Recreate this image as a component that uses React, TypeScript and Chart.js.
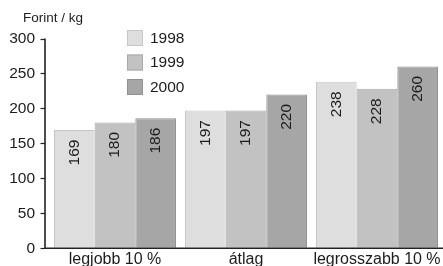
import React, { useEffect, useRef } from "react";
import { Chart, registerables } from "chart.js";

Chart.register(...registerables);

const categories = ["legjobb 10 %", "átlag", "legrosszabb 10 %"];
const seriesNames = ["1998", "1999", "2000"];
const values1998 = [169, 197, 238];
const values1999 = [180, 197, 228];
const values2000 = [186, 220, 260];
const yTicks = [0, 50, 100, 150, 200, 250, 300];
const yAxisTitle = "Forint / kg";

const fills = ["#dedede", "#c2c2c2", "#a6a6a6"];
const borders = ["#c6c6c6", "#a9a9a9", "#909090"];
const FONT = "'Liberation Sans', Arial, sans-serif";
const TEXT = "#1c1c1c";

const decorPlugin = {
  id: "decor",
  afterDatasetsDraw(chart: any) {
    const ctx = chart.ctx;
    const y = chart.scales.y;
    const area = chart.chartArea;
    const axisX = 45;
    ctx.save();
    // data labels
    ctx.fillStyle = TEXT;
    ctx.font = `15.5px ${FONT}`;
    ctx.textAlign = "right";
    ctx.textBaseline = "middle";
    chart.data.datasets.forEach((ds: any, i: number) => {
      const meta = chart.getDatasetMeta(i);
      meta.data.forEach((bar: any, j: number) => {
        ctx.save();
        ctx.translate(bar.x, bar.y + 9.5);
        ctx.rotate(-Math.PI / 2);
        ctx.fillText(String(ds.data[j]), 0, 0);
        ctx.restore();
      });
    });
    // axes
    ctx.strokeStyle = "#222";
    ctx.lineWidth = 1.6;
    ctx.beginPath();
    ctx.moveTo(axisX, y.getPixelForValue(300));
    ctx.lineTo(axisX, area.bottom);
    ctx.lineTo(443, area.bottom);
    ctx.stroke();
    ctx.lineWidth = 1.2;
    yTicks.forEach((t) => {
      const py = Math.round(y.getPixelForValue(t)) + 0.5;
      ctx.beginPath();
      ctx.moveTo(axisX - 4.5, py);
      ctx.lineTo(axisX, py);
      ctx.stroke();
    });
    // y title
    ctx.fillStyle = TEXT;
    ctx.font = `13.5px ${FONT}`;
    ctx.textAlign = "left";
    ctx.textBaseline = "middle";
    ctx.fillText(yAxisTitle, 23, 18.5);
    // legend
    const rowsY = [38, 62.5, 87];
    ctx.font = `15.5px ${FONT}`;
    seriesNames.forEach((name, i) => {
      const cy = rowsY[i];
      ctx.fillStyle = fills[i];
      ctx.fillRect(127, cy - 8, 16, 16);
      ctx.strokeStyle = borders[i];
      ctx.lineWidth = 1;
      ctx.strokeRect(127.5, cy - 7.5, 15, 15);
      ctx.fillStyle = TEXT;
      ctx.fillText(name, 150, cy + 0.5);
    });
    ctx.restore();
  },
};

export default function App() {
  const ref = useRef<HTMLCanvasElement>(null);
  useEffect(() => {
    if (!ref.current) return;
    const chart = new Chart(ref.current, {
      type: "bar",
      data: {
        labels: categories,
        datasets: [values1998, values1999, values2000].map((vals, i) => ({
          label: seriesNames[i],
          data: vals,
          backgroundColor: fills[i],
          borderColor: borders[i],
          borderWidth: 1,
          barPercentage: 1,
          categoryPercentage: 0.931,
        })),
      },
      options: {
        responsive: false,
        animation: false,
        layout: { padding: { top: 38.5, right: 0.5, left: 0, bottom: 0 } },
        plugins: {
          legend: { display: false },
          tooltip: { enabled: false },
        },
        scales: {
          x: {
            afterFit: (s: any) => {
              s.height = 17.7;
            },
            grid: { display: false, drawTicks: false },
            border: { display: false },
            ticks: {
              padding: 2,
              color: TEXT,
              font: { family: FONT, size: 16 },
              maxRotation: 0,
              autoSkip: false,
            },
          },
          y: {
            min: 0,
            max: 300,
            afterFit: (s: any) => {
              s.width = 49.5;
            },
            afterBuildTicks: (s: any) => {
              s.ticks = yTicks.map((v) => ({ value: v }));
            },
            grid: {
              display: true,
              drawOnChartArea: false,
              drawTicks: true,
              tickLength: 14.5,
              color: "rgba(0,0,0,0)",
            },
            border: { display: false },
            ticks: {
              padding: 0,
              color: TEXT,
              font: { family: FONT, size: 15.5 },
            },
          },
        },
      },
      plugins: [decorPlugin],
    });
    return () => chart.destroy();
  }, []);
  return (
    <div style={{ position: "fixed", left: 0, top: 0, width: 443, height: 266, background: "#fff" }}>
      <canvas ref={ref} width={443} height={266} style={{ display: "block" }} />
    </div>
  );
}
